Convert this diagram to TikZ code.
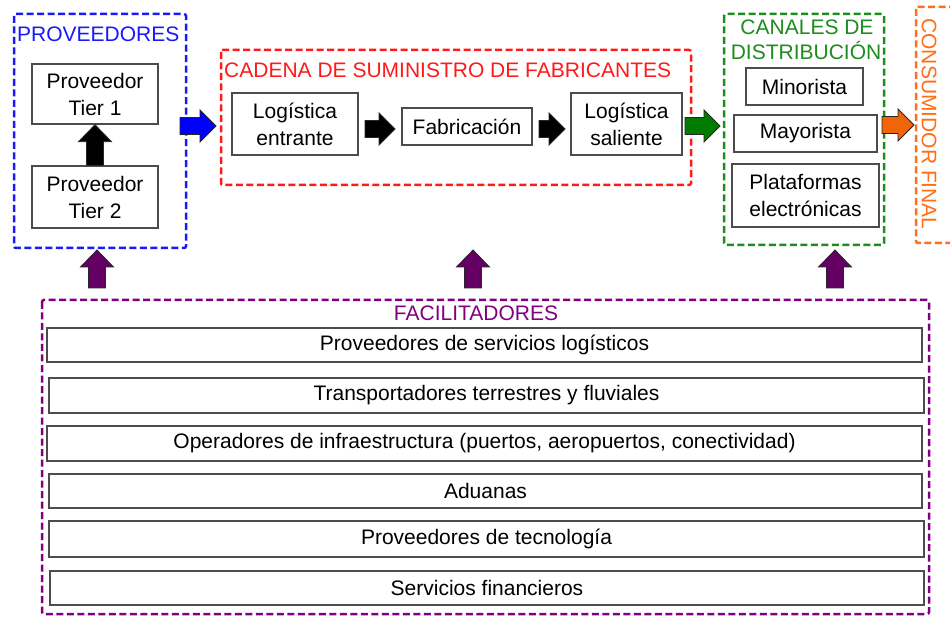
\documentclass[tikz,border=0pt]{standalone}
\usepackage{fontspec}
\setmainfont{Liberation Sans}
\usetikzlibrary{calc}
\definecolor{cblue}{RGB}{25,25,250}
\definecolor{cred}{RGB}{255,25,25}
\definecolor{cgreen}{RGB}{30,140,30}
\definecolor{cgreenf}{RGB}{0,125,0}
\definecolor{corange}{RGB}{255,110,25}
\definecolor{corangef}{RGB}{240,100,10}
\definecolor{cpurple}{RGB}{128,0,128}
\definecolor{cpurplef}{RGB}{100,0,100}
\newcommand\harr[3]{\path[fill=#1,draw=black!85,line width=0.8pt] let \p1=#2, \p2=#3 in
 (\x1,{\y1+8.5pt}) -- ({\x2-16pt},{\y1+8.5pt}) -- ({\x2-16pt},{\y1+16pt}) -- (\x2,\y1)
 -- ({\x2-16pt},{\y1-16pt}) -- ({\x2-16pt},{\y1-8.5pt}) -- (\x1,{\y1-8.5pt}) -- cycle;}
\newcommand\varr[3]{\path[fill=#1,draw=black!85,line width=0.8pt] let \p1=#2, \p2=#3 in
 ({\x1-8.5pt},\y1) -- ({\x1-8.5pt},{\y2-17pt}) -- ({\x1-16.5pt},{\y2-17pt}) -- (\x1,\y2)
 -- ({\x1+16.5pt},{\y2-17pt}) -- ({\x1+8.5pt},{\y2-17pt}) -- ({\x1+8.5pt},\y1) -- cycle;}
\begin{document}
\begin{tikzpicture}[x=1pt,y=-1pt,
  every node/.style={font=\fontsize{21}{27}\selectfont},
  box/.style={draw=black!70,line width=1.4pt,fill=white,align=center,inner sep=0pt},
  group/.style={dashed,dash pattern=on 7pt off 3.5pt,line width=2.5pt,rounded corners=2pt},
  title/.style={inner sep=0pt,anchor=base}]
\useasboundingbox[fill=white] (0,0) rectangle (950,617);

% dashed groups
\draw[group,cblue] (14,14) rectangle (186,248);
\draw[group,cred] (221,50) rectangle (691,185);
\draw[group,cgreen] (724,14) rectangle (884,245);
\draw[group,corange] (916,7) rectangle (965,243);
\draw[group,cpurple] (42,300) rectangle (929,614);

% titles
\node[title,anchor=base west,text=cblue] (tprov) at (17,42) {PROVEEDORES};
\node[title,anchor=base west,text=cred] (tcad) at (224,78) {CADENA DE SUMINISTRO DE FABRICANTES};
\node[title,text=cgreen] (tcan1) at (807,35) {CANALES DE};
\node[title,text=cgreen] (tcan2) at (806,60) {DISTRIBUCIÓN};
\node[inner sep=0pt,rotate=-90,text=corange] (tcons) at (929,124) {CONSUMIDOR FINAL};
\node[title,text=cpurple] (tfac) at (476,321) {FACILITADORES};

% proveedores
\node[box,minimum width=126pt,minimum height=60pt] (t1) at (95,94) {Proveedor\\Tier 1};
\node[box,minimum width=126pt,minimum height=62pt] (t2) at (95,197) {Proveedor\\Tier 2};

% cadena
\node[box,minimum width=126pt,minimum height=62pt] (le) at (295,124) {Logística\\entrante};
\node[box,minimum width=130pt,minimum height=37pt] (fab) at (467,126.5) {Fabricación};
\node[box,minimum width=111pt,minimum height=62pt] (ls) at (626.5,124) {Logística\\saliente};

% canales
\node[box,minimum width=117pt,minimum height=37pt] (mino) at (804.5,86.5) {Minorista};
\node[box,minimum width=143pt,minimum height=37pt] (mayo) at (805.5,133.5) {Mayorista};
\node[box,minimum width=147pt,minimum height=63pt] (plat) at (805.5,195.5) {Plataformas\\electrónicas};

% facilitadores
\node[box,minimum width=875pt,minimum height=34pt] (r1) at (484.5,345) {Proveedores de servicios logísticos};
\node[box,minimum width=875pt,minimum height=35pt] (r2) at (486.5,395.5) {Transportadores terrestres y fluviales};
\node[box,minimum width=875pt,minimum height=35pt] (r3) at (484.5,443.5) {Operadores de infraestructura (puertos, aeropuertos, conectividad)};
\node[box,minimum width=873pt,minimum height=34pt] (r4) at (485.5,491) {Aduanas};
\node[box,minimum width=875pt,minimum height=36pt] (r5) at (486.5,539) {Proveedores de tecnología};
\node[box,minimum width=874pt,minimum height=34pt] (r6) at (487,588) {Servicios financieros};

% arrows
\coordinate (bA) at (180,126); \coordinate (bB) at (216,126);
\coordinate (k1A) at (365,129); \coordinate (k1B) at (395,129);
\coordinate (k2A) at (539,129); \coordinate (k2B) at (565,129);
\coordinate (gA) at (685,126); \coordinate (gB) at (720,126);
\coordinate (oA) at (882,125); \coordinate (oB) at (914,125);
\harr{blue}{(bA)}{(bB)}
\harr{black}{(k1A)}{(k1B)}
\harr{black}{(k2A)}{(k2B)}
\harr{cgreenf}{(gA)}{(gB)}
\harr{corangef}{(oA)}{(oB)}
\varr{black}{(t2.north)}{(t1.south)}
\coordinate (p1A) at (97,288); \coordinate (p1B) at (97,250);
\coordinate (p2A) at (473,288); \coordinate (p2B) at (473,250);
\coordinate (p3A) at (835,288); \coordinate (p3B) at (835,250);
\varr{cpurplef}{(p1A)}{(p1B)}
\varr{cpurplef}{(p2A)}{(p2B)}
\varr{cpurplef}{(p3A)}{(p3B)}
\end{tikzpicture}
\end{document}
